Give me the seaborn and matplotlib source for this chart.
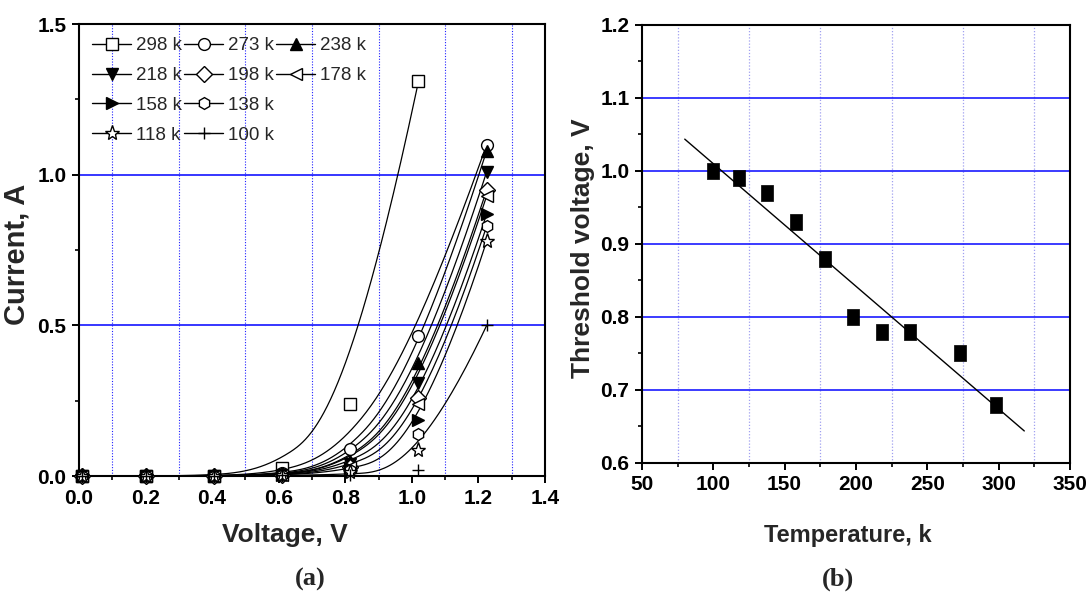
import matplotlib
matplotlib.use("Agg")
import matplotlib.pyplot as plt
import numpy as np
import seaborn as sns
from matplotlib.lines import Line2D
from matplotlib.ticker import MultipleLocator

# panel (a): I-V curves at several temperatures
VOLT = [0.01, 0.2, 0.405, 0.61, 0.815, 1.02, 1.225]
LABELS = ["298 k", "273 k", "238 k", "218 k", "198 k", "178 k", "158 k", "138 k", "118 k", "100 k"]
I_298 = [0.0, 0.0, 0.0, 0.025, 0.24, 1.31]
I_273 = [0.0, 0.0, 0.0, 0.01, 0.09, 0.465, 1.10]
I_238 = [0.0, 0.0, 0.0, 0.006, 0.05, 0.375, 1.08]
I_218 = [0.0, 0.0, 0.0, 0.005, 0.04, 0.31, 1.01]
I_198 = [0.0, 0.0, 0.0, 0.005, 0.03, 0.26, 0.95]
I_178 = [0.0, 0.0, 0.0, 0.004, 0.03, 0.24, 0.93]
I_158 = [0.0, 0.0, 0.0, 0.004, 0.025, 0.185, 0.87]
I_138 = [0.0, 0.0, 0.0, 0.003, 0.02, 0.14, 0.83]
I_118 = [0.0, 0.0, 0.0, 0.003, 0.015, 0.085, 0.78]
I_100 = [0.0, 0.0, 0.0, 0.002, 0.005, 0.02, 0.50]
CURRENTS = [I_298, I_273, I_238, I_218, I_198, I_178, I_158, I_138, I_118, I_100]
MARKERS = ["s", "o", "^", "v", "D", "<", ">", "h", "*", "+"]
FILLED = [False, False, True, True, False, False, True, False, False, False]

# panel (b): threshold voltage vs temperature
TEMP = [100, 118, 138, 158, 178, 198, 218, 238, 273, 298]
VTH = [1.00, 0.99, 0.97, 0.93, 0.88, 0.80, 0.78, 0.78, 0.75, 0.68]

SANS = ["Liberation Sans", "DejaVu Sans"]
SERIF = ["Liberation Serif", "DejaVu Serif"]


def bspline(px, py, k=3, num=300):
    # clamped B-spline with the data points as control points (Origin style)
    px = np.asarray(px, float)
    py = np.asarray(py, float)
    n = len(px)
    k = min(k, n - 1)
    t = np.concatenate([np.zeros(k + 1), np.arange(1, n - k), np.full(k + 1, n - k)]).astype(float)
    u = np.linspace(0, n - k, num)
    u[-1] -= 1e-9
    N = np.zeros((num, len(t) - 1))
    for j in range(len(t) - 1):
        N[:, j] = (u >= t[j]) & (u < t[j + 1])
    for d in range(1, k + 1):
        Nn = np.zeros((num, len(t) - 1 - d))
        for j in range(len(t) - 1 - d):
            left = right = 0
            den1 = t[j + d] - t[j]
            den2 = t[j + d + 1] - t[j + 1]
            if den1 > 0:
                left = (u - t[j]) / den1 * N[:, j]
            if den2 > 0:
                right = (t[j + d + 1] - u) / den2 * N[:, j + 1]
            Nn[:, j] = left + right
        N = Nn
    return N @ px, N @ py


def style_axes(ax):
    for sp in ax.spines.values():
        sp.set_visible(True)
        sp.set_color("black")
        sp.set_linewidth(1.5)
    ax.tick_params(which="major", direction="out", length=5, width=1.4, colors="black",
                   labelsize=15, pad=4, top=False, right=False)
    ax.tick_params(which="minor", direction="out", length=3, width=1.2, colors="black",
                   top=False, right=False)
    for lbl in ax.get_xticklabels() + ax.get_yticklabels():
        lbl.set_fontweight("bold")
    ax.set_axisbelow(True)


sns.set_style("ticks")
plt.rcParams["font.family"] = SANS

fig = plt.figure(figsize=(10.91, 5.96), dpi=100)
ax1 = fig.add_axes([0.0724, 0.2013, 0.4271, 0.7584])
ax2 = fig.add_axes([0.5884, 0.2232, 0.3923, 0.7349])

# ---- panel (a)
handles = []
for lab, cur, m, filled in zip(LABELS, CURRENTS, MARKERS, FILLED):
    v = VOLT[:len(cur)]
    xs, ys = bspline(v, cur)
    sns.lineplot(x=xs, y=ys, color="black", linewidth=0.9, ax=ax1, legend=False)
    ms = 11 if m == "*" else 8.5
    ax1.plot(v, cur, ls="none", marker=m, ms=ms, mec="black",
             mfc="black" if filled else "white", mew=1.0, clip_on=False, zorder=3)
    handles.append(Line2D([], [], color="black", lw=1.0, marker=m, ms=ms, mec="black",
                          mfc="black" if filled else "white", mew=1.0, label=lab))

ax1.set_xlim(0, 1.4)
ax1.set_ylim(0, 1.5)
ax1.xaxis.set_major_locator(MultipleLocator(0.2))
ax1.xaxis.set_minor_locator(MultipleLocator(0.1))
ax1.yaxis.set_major_locator(MultipleLocator(0.5))
ax1.yaxis.set_minor_locator(MultipleLocator(0.25))
ax1.grid(False)
for xv in [0.1, 0.3, 0.5, 0.7, 0.9, 1.1, 1.3]:
    ax1.axvline(xv, color="#2020ff", ls=(0, (1, 1.5)), lw=0.8, zorder=0)
for yv in [0.5, 1.0]:
    ax1.axhline(yv, color="#0000ff", lw=1.1, zorder=0)
style_axes(ax1)
ax1.set_xlabel("Voltage, V", fontsize=19, fontweight="bold")
ax1.xaxis.set_label_coords(0.442, -0.105)
ax1.set_ylabel("Current, A", fontsize=21, fontweight="bold")
ax1.yaxis.set_label_coords(-0.105, 0.49)

blank = Line2D([], [], alpha=0, label=" ")
order = [0, 3, 6, 8, 1, 4, 7, 9, 2, 5]
leg_handles = [handles[k] for k in order] + [blank, blank]
ax1.legend(handles=leg_handles, loc="upper left", ncol=3, frameon=False,
           prop={"size": 13.5, "weight": "normal"},
           handlelength=2.1, handletextpad=0.25, columnspacing=0.1,
           labelspacing=0.68, borderaxespad=0.4, borderpad=0.3)

# ---- panel (b)
slope, icpt = np.polyfit(TEMP, VTH, 1)
tx = np.linspace(80, 318, 50)
sns.lineplot(x=tx, y=slope * tx + icpt, color="black", linewidth=1.0, ax=ax2, legend=False)
rect = [(-0.75, -1), (0.75, -1), (0.75, 1), (-0.75, 1), (-0.75, -1)]
sns.scatterplot(x=TEMP, y=VTH, marker=rect, s=130, color="black", edgecolor="black",
                linewidth=0.5, ax=ax2, zorder=3, legend=False)
ax2.set_xlim(50, 350)
ax2.set_ylim(0.6, 1.2)
ax2.xaxis.set_major_locator(MultipleLocator(50))
ax2.xaxis.set_minor_locator(MultipleLocator(25))
ax2.yaxis.set_major_locator(MultipleLocator(0.1))
ax2.yaxis.set_minor_locator(MultipleLocator(0.05))
ax2.set_yticks([0.6, 0.7, 0.8, 0.9, 1.0, 1.1, 1.2])
ax2.set_yticklabels(["0.6", "0.7", "0.8", "0.9", "1.0", "1.1", "1.2"])
ax2.grid(False)
for xv in [75, 125, 175, 225, 275, 325]:
    ax2.axvline(xv, color="#a0a0f0", ls=(0, (1, 1.5)), lw=0.9, zorder=0)
for yv in [0.7, 0.8, 0.9, 1.0, 1.1]:
    ax2.axhline(yv, color="#1a1aff", lw=1.2, zorder=0)
style_axes(ax2)
ax2.set_xlabel("Temperature, k", fontsize=17, fontweight="bold")
ax2.xaxis.set_label_coords(0.481, -0.14)
ax2.set_ylabel("Threshold voltage, V", fontsize=19, fontweight="bold")
ax2.yaxis.set_label_coords(-0.11, 0.49)

fig.text(310 / 1091, 0.028, "(a)", ha="center", va="center", fontsize=19,
         fontweight="bold", family=SERIF)
fig.text(838 / 1091, 0.028, "(b)", ha="center", va="center", fontsize=19,
         fontweight="bold", family=SERIF)

fig.savefig("out.png", dpi=100)
